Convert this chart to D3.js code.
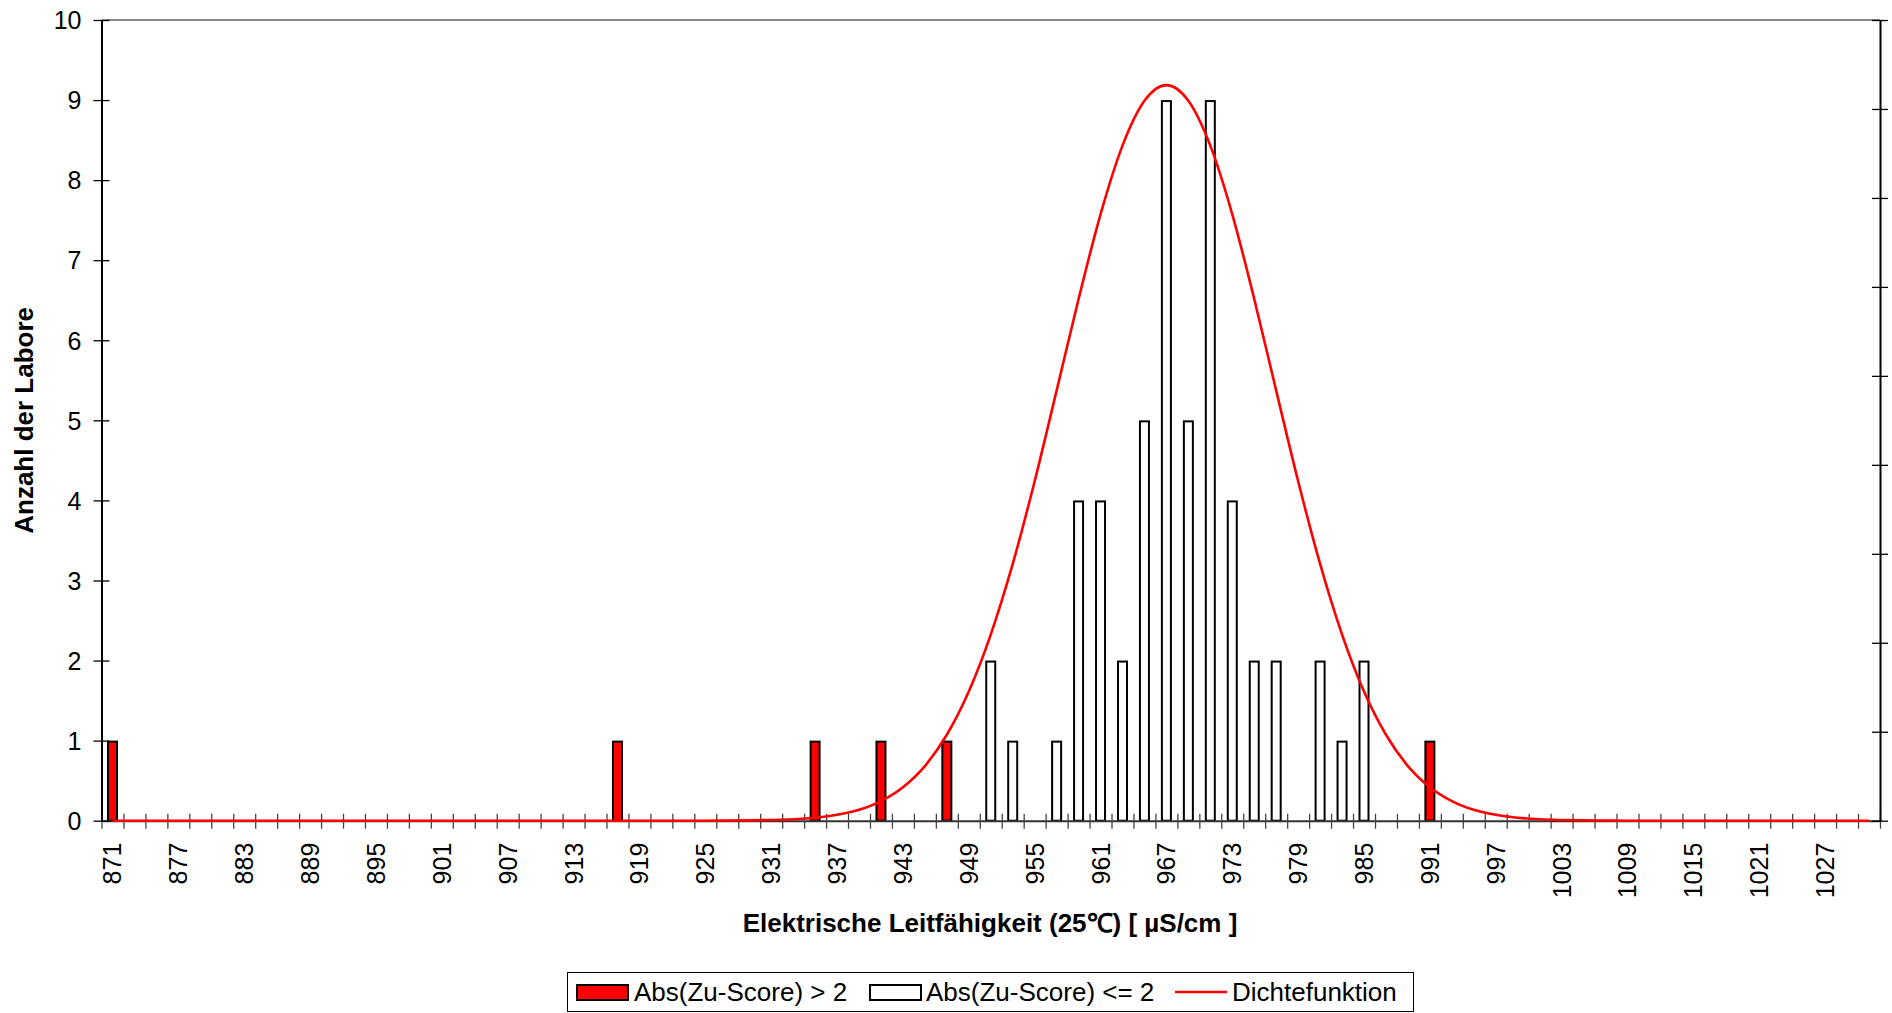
<!DOCTYPE html>
<html>
<head>
<meta charset="utf-8">
<script src="https://cdn.jsdelivr.net/npm/d3@7"></script>
<style>
  html, body { margin: 0; padding: 0; background: #fff; }
  svg { display: block; font-family: "Liberation Sans", Arial, sans-serif; }
</style>
</head>
<body>
<svg id="chart" width="1892" height="1013"></svg>
<script>
// ---- Data ----
const categories = [
  871, 873, 875, 877, 879, 881, 883, 885, 887, 889,
  891, 893, 895, 897, 899, 901, 903, 905, 907, 909,
  911, 913, 915, 917, 919, 921, 923, 925, 927, 929,
  931, 933, 935, 937, 939, 941, 943, 945, 947, 949,
  951, 953, 955, 957, 959, 961, 963, 965, 967, 969,
  971, 973, 975, 977, 979, 981, 983, 985, 987, 989,
  991, 993, 995, 997, 999, 1001, 1003, 1005, 1007, 1009,
  1011, 1013, 1015, 1017, 1019, 1021, 1023, 1025, 1027, 1029,
  1031
];
// Abs(Zu-Score) > 2  (red bars)
const countsOutside = [
  1,0,0,0,0,0,0,0,0,0,
  0,0,0,0,0,0,0,0,0,0,
  0,0,0,1,0,0,0,0,0,0,
  0,0,1,0,0,1,0,0,1,0,
  0,0,0,0,0,0,0,0,0,0,
  0,0,0,0,0,0,0,0,0,0,
  1,0,0,0,0,0,0,0,0,0,
  0,0,0,0,0,0,0,0,0,0,
  0
];
// Abs(Zu-Score) <= 2  (white bars)
const countsInside = [
  0,0,0,0,0,0,0,0,0,0,
  0,0,0,0,0,0,0,0,0,0,
  0,0,0,0,0,0,0,0,0,0,
  0,0,0,0,0,0,0,0,0,0,
  2,1,0,1,4,4,2,5,9,5,
  9,4,2,2,0,2,1,2,0,0,
  0,0,0,0,0,0,0,0,0,0,
  0,0,0,0,0,0,0,0,0,0,
  0
];
// Dichtefunktion (secondary axis)
const density = [
  0,0,0,0,0,0,0,0,0,0,
  0,0,0,0,0,0,0,0,0,0,
  0,0,0,0,0,0,0,0,0.00001,0.00002,
  0.00004,0.00008,0.00017,0.00033,0.00061,0.00110,0.00188,0.00307,0.00483,0.00726,
  0.01046,0.01443,0.01908,0.02417,0.02932,0.03408,0.03794,0.04046,0.04134,0.04046,
  0.03794,0.03408,0.02932,0.02417,0.01908,0.01443,0.01046,0.00726,0.00483,0.00307,
  0.00188,0.00110,0.00061,0.00033,0.00017,0.00008,0.00004,0.00002,0.00001,0,
  0,0,0,0,0,0,0,0,0,0,
  0
];
const xTickLabels = [871,877,883,889,895,901,907,913,919,925,931,937,943,949,955,961,967,973,979,985,991,997,1003,1009,1015,1021,1027];
const yTicks = [0,1,2,3,4,5,6,7,8,9,10];
const y2Ticks = [0,0.005,0.01,0.015,0.02,0.025,0.03,0.035,0.04,0.045];
const yTitle = "Anzahl der Labore";
const xTitle = "Elektrische Leitfähigkeit (25℃) [ µS/cm ]";
const legendLabels = ["Abs(Zu-Score) > 2", "Abs(Zu-Score) <= 2", "Dichtefunktion"];

// ---- Layout ----
const L = 101.5, R = 1880, T = 20, B = 820.7;
const svg = d3.select("#chart");

const x = d3.scaleBand().domain(categories).range([L, R]).paddingInner(0).paddingOuter(0);
const xi = d3.scaleLinear().domain([0, categories.length]).range([L, R]);
const y = d3.scaleLinear().domain([0, 10]).range([B, T]);
const y2 = d3.scaleLinear().domain([0, 0.045]).range([B, T]);

// top border (gray)
svg.append("line").attr("x1", L).attr("x2", R).attr("y1", y(10)).attr("y2", y(10))
  .attr("stroke", "#8c8c8c").attr("stroke-width", 2);

// bars
const bw = x.bandwidth();
function drawBars(vals, fill) {
  const data = categories.map((c, i) => ({c, v: vals[i]})).filter(d => d.v > 0);
  svg.append("g").selectAll("rect").data(data).join("rect")
    .attr("x", d => x(d.c) + bw / 2 - 4.5)
    .attr("width", 9)
    .attr("y", d => y(d.v) + 1)
    .attr("height", d => y(0) - y(d.v) - 1)
    .attr("fill", fill)
    .attr("stroke", "#000")
    .attr("stroke-width", 2);
}
drawBars(countsInside, "#fff");
drawBars(countsOutside, "#ff0000");

// bottom axis: boundary ticks
const gxTicks = svg.append("g").attr("transform", `translate(0,${B})`)
  .call(d3.axisBottom(xi).tickValues(d3.range(0, categories.length + 1)).tickSize(0).tickFormat(""));
gxTicks.select(".domain").attr("stroke", "#333").attr("stroke-width", 2);
gxTicks.selectAll(".tick line").attr("y1", -7).attr("y2", 8).attr("stroke", "#444").attr("stroke-width", 1.3);

// bottom axis labels
const gxLab = svg.append("g").attr("transform", `translate(0,${B})`)
  .call(d3.axisBottom(x).tickValues(xTickLabels).tickSize(0));
gxLab.select(".domain").remove();
gxLab.selectAll(".tick text")
  .attr("font-size", 25).attr("fill", "#000")
  .attr("font-family", "'Liberation Sans', Arial, sans-serif")
  .attr("text-anchor", "end")
  .attr("transform", "translate(0,22) rotate(-90)")
  .attr("x", 0).attr("y", 0).attr("dy", "0.36em");

// density line
const line = d3.line()
  .x((d, i) => x(categories[i]) + bw / 2)
  .y(d => y2(d))
  .curve(d3.curveMonotoneX);
svg.append("path").datum(density).attr("d", line)
  .attr("fill", "none").attr("stroke", "#ff0000").attr("stroke-width", 2.6);

// left axis
const gy = svg.append("g").attr("transform", `translate(${L},0)`)
  .call(d3.axisLeft(y).tickValues(yTicks).tickSize(0).tickPadding(20));
gy.select(".domain").attr("stroke", "#000").attr("stroke-width", 2);
gy.selectAll(".tick line").attr("x1", -8).attr("x2", 8).attr("stroke", "#000").attr("stroke-width", 1.3);
gy.selectAll(".tick text").attr("font-size", 25).attr("fill", "#000")
  .attr("font-family", "'Liberation Sans', Arial, sans-serif").attr("dy", "0.35em");

// right axis (secondary, no labels)
const gy2 = svg.append("g").attr("transform", `translate(${R},0)`)
  .call(d3.axisRight(y2).tickValues(y2Ticks).tickSize(0).tickFormat(""));
gy2.select(".domain").attr("stroke", "#000").attr("stroke-width", 2);
gy2.selectAll(".tick line").attr("x1", -8).attr("x2", 8).attr("stroke", "#000").attr("stroke-width", 1.3);

// axis titles
svg.append("text").attr("transform", `translate(33,${(T + B) / 2}) rotate(-90)`)
  .attr("text-anchor", "middle").attr("font-size", 26).attr("font-weight", "bold").text(yTitle);
svg.append("text").attr("x", 990).attr("y", 932)
  .attr("text-anchor", "middle").attr("font-size", 26).attr("font-weight", "bold").text(xTitle);

// legend
const lg = svg.append("g");
lg.append("rect").attr("x", 567.5).attr("y", 972.5).attr("width", 846).attr("height", 39)
  .attr("fill", "#fff").attr("stroke", "#000").attr("stroke-width", 1);
lg.append("rect").attr("x", 577).attr("y", 985).attr("width", 51).attr("height", 15)
  .attr("fill", "#ff0000").attr("stroke", "#000").attr("stroke-width", 2);
lg.append("text").attr("x", 634).attr("y", 1001).attr("font-size", 26).text(legendLabels[0]);
lg.append("rect").attr("x", 870).attr("y", 985).attr("width", 51).attr("height", 15)
  .attr("fill", "#fff").attr("stroke", "#000").attr("stroke-width", 2);
lg.append("text").attr("x", 926).attr("y", 1001).attr("font-size", 26).text(legendLabels[1]);
lg.append("line").attr("x1", 1175).attr("x2", 1227).attr("y1", 992).attr("y2", 992)
  .attr("stroke", "#ff0000").attr("stroke-width", 2.6);
lg.append("text").attr("x", 1232).attr("y", 1001).attr("font-size", 26).text(legendLabels[2]);
</script>
</body>
</html>
